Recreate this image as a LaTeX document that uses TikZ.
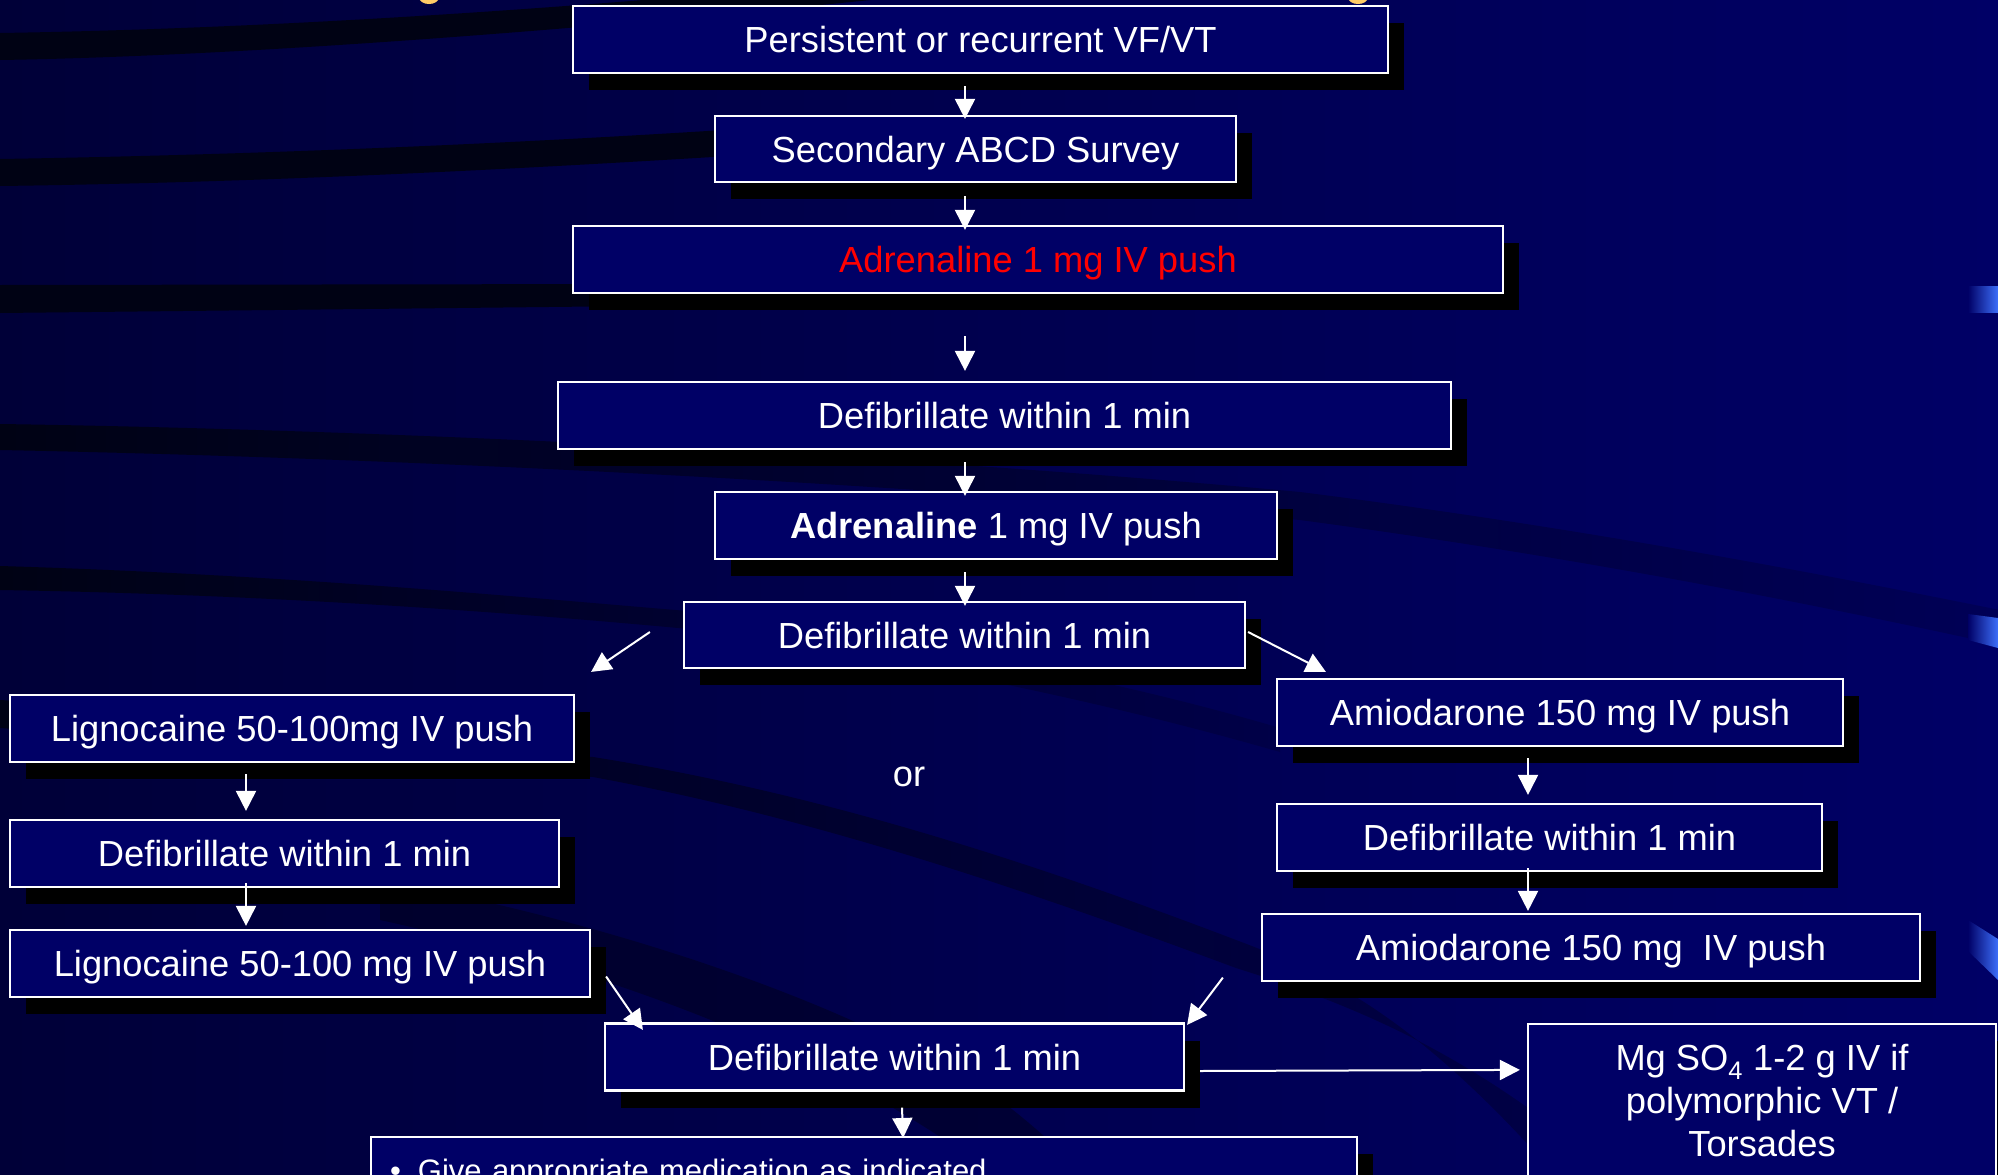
\documentclass[tikz,border=0pt]{standalone}
\usepackage{fontspec}
\setmainfont{Liberation Sans}
\usetikzlibrary{arrows.meta,shadows,calc}

\definecolor{boxfill}{RGB}{0,0,102}
\definecolor{bgleft}{RGB}{0,0,56}
\definecolor{bgmid}{RGB}{0,0,88}
\definecolor{bgright}{RGB}{0,0,102}
\definecolor{band}{RGB}{0,2,20}
\definecolor{bandfade}{RGB}{0,0,72}
\definecolor{bandfaint}{RGB}{0,0,86}
\definecolor{titlegold}{RGB}{255,204,102}
\definecolor{edgeblue}{RGB}{60,110,250}
\definecolor{alertred}{RGB}{255,0,0}

\tikzset{
  plainbox/.style={draw=white, line width=2.2pt, fill=boxfill, text=white, inner sep=0pt,
    font=\fontsize{36.3}{43}\selectfont,
    drop shadow={shadow xshift=16pt, shadow yshift=-17pt, fill=black, opacity=1}},
  stepbox/.style={plainbox, text height=26pt, text depth=0pt},
  flow/.style={draw=white, line width=2pt, -{Triangle[length=20pt,width=20pt]}},
}

\begin{document}
\begin{tikzpicture}[x=1pt,y=-1pt]
\useasboundingbox (0,0) rectangle (1998,1175);
\clip (0,0) rectangle (1998,1175);

% backdrop
\shade[left color=bgleft, middle color=bgmid, right color=bgright] (0,0) rectangle (1998,1175);

% dark sweeping bands
\fill[band] (0,33) .. controls (250,29) and (500,12) .. (680,-3) -- (900,-3)
  .. controls (600,28) and (250,56) .. (0,60) -- cycle;
\fill[band] (0,159) .. controls (300,154) and (600,140) .. (900,118) -- (900,145)
  .. controls (600,165) and (300,182) .. (0,186) -- cycle;
\fill[band] (0,285) -- (640,284) -- (640,306) -- (0,313) -- cycle;
\shade[left color=band, right color=bandfaint]
  (0,424) .. controls (400,430) and (900,455) .. (1300,492)
  .. controls (1600,530) and (1850,580) .. (2000,610) -- (2000,645)
  .. controls (1850,612) and (1600,560) .. (1300,520)
  .. controls (900,483) and (400,458) .. (0,450) -- cycle;
\shade[left color=band, right color=bandfade]
  (0,566) .. controls (300,575) and (550,600) .. (700,612)
  .. controls (900,640) and (1100,675) .. (1280,728) -- (1280,752)
  .. controls (1100,700) and (900,660) .. (700,630)
  .. controls (550,616) and (300,595) .. (0,590) -- cycle;
\shade[left color=band, right color=bandfade]
  (0,700) .. controls (250,715) and (450,745) .. (593,757)
  .. controls (800,790) and (1000,850) .. (1236,940)
  .. controls (1330,975) and (1420,1020) .. (1560,1180) -- (1620,1180)
  .. controls (1480,1060) and (1370,1010) .. (1236,968)
  .. controls (1000,880) and (800,815) .. (593,777)
  .. controls (450,770) and (250,745) .. (0,728) -- cycle;
\fill[band, opacity=0.45] (380,880) .. controls (600,920) and (850,1000) .. (1000,1100)
  .. controls (1040,1130) and (1070,1160) .. (1090,1180) -- (1000,1180)
  .. controls (900,1100) and (700,990) .. (380,920) -- cycle;

% blue flashes at the right edge
\shade[left color=bgright, right color=edgeblue] (1968,286) -- (1998,286) -- (1998,312) -- (1968,312) -- cycle;
\shade[left color=bgright, right color=edgeblue] (1968,614) -- (1998,618) -- (1998,648) -- (1968,640) -- cycle;
\shade[left color=bgright, right color=edgeblue] (1968,920) -- (1998,939) -- (1998,980) -- (1968,951) -- cycle;

% tails of the heading letters
\draw[titlegold, line width=4pt] (421,-3) arc[start angle=180, end angle=0, x radius=8, y radius=5];
\draw[titlegold, line width=4pt] (1350,-3) arc[start angle=180, end angle=0, x radius=8, y radius=5];

% boxes
\node[stepbox, minimum width=815pt, minimum height=67pt] (persist) at (980.5,39.5) {Persistent or recurrent VF/VT};
\node[stepbox, minimum width=521pt, minimum height=66pt] (survey) at (975.5,149) {Secondary ABCD Survey};
\node[stepbox, minimum width=930pt, minimum height=67pt, text=alertred] (adrenA) at (1038,259.5) {Adrenaline 1 mg IV push};
\node[stepbox, minimum width=893pt, minimum height=67pt] (defibA) at (1004.5,415.5) {Defibrillate within 1 min};
\node[stepbox, minimum width=562pt, minimum height=67pt] (adrenB) at (996,525.5) {\textbf{Adrenaline} 1 mg IV push};
\node[stepbox, minimum width=561pt, minimum height=66pt] (defibB) at (964.5,635) {Defibrillate within 1 min};
\node[stepbox, minimum width=564pt, minimum height=67pt] (lignoA) at (292,728.5) {Lignocaine 50-100mg IV push};
\node[stepbox, minimum width=566pt, minimum height=67pt] (amioA) at (1560,712.5) {Amiodarone 150 mg IV push};
\node[text=white, font=\fontsize{36.3}{43}\selectfont, inner sep=0pt] (orlabel) at (909,777) {or};
\node[stepbox, minimum width=549pt, minimum height=67pt] (defibL) at (284.5,853.5) {Defibrillate within 1 min};
\node[stepbox, minimum width=545pt, minimum height=67pt] (defibR) at (1549.5,837.5) {Defibrillate within 1 min};
\node[stepbox, minimum width=580pt, minimum height=67pt] (lignoB) at (300,963.5) {Lignocaine 50-100 mg IV push};
\node[stepbox, minimum width=658pt, minimum height=67pt] (amioB) at (1591,947.5) {Amiodarone 150 mg~ IV push};
\node[stepbox, minimum width=579pt, minimum height=67pt] (defibM) at (894.5,1057) {Defibrillate within 1 min};
\node[plainbox, minimum width=468pt, minimum height=154pt, align=center] (mgso) at (1762,1101)
  {Mg SO\textsubscript{4} 1-2 g IV if\\polymorphic VT /\\Torsades};
\node[plainbox, anchor=north west, text width=948pt, align=left, inner xsep=19pt, inner ysep=22pt,
  text height=22pt, text depth=7pt, font=\fontsize{31}{37}\selectfont] (note) at (370,1136)
  {•\hspace{17pt}Give appropriate medication as indicated};

% connectors
\coordinate (spine) at (965,0);
\coordinate (lspine) at (246,0);
\coordinate (rspine) at (1528,0);
\draw[flow] ($(persist.south -| spine)+(0,12)$) -- ($(survey.north -| spine)+(0,4)$);
\draw[flow] ($(survey.south -| spine)+(0,13)$) -- ($(adrenA.north -| spine)+(0,5)$);
\draw[flow] ($(adrenA.south -| spine)+(0,42)$) -- ($(defibA.north -| spine)+(0,-10)$);
\draw[flow] ($(defibA.south -| spine)+(0,12)$) -- ($(adrenB.north -| spine)+(0,5)$);
\draw[flow] ($(adrenB.south -| spine)+(0,12)$) -- ($(defibB.north -| spine)+(0,5)$);
\draw[flow] ($(defibB.west)+(-33,-3)$) -- ($(lignoA.north east)+(16,-22)$);
\draw[flow] ($(defibB.east)+(2,-3)$) -- ($(amioA.north west)+(50,-6)$);
\draw[flow] ($(lignoA.south -| lspine)+(0,11)$) -- ($(defibL.north -| lspine)+(0,-8)$);
\draw[flow] ($(defibL.south -| lspine)+(0,-5)$) -- ($(lignoB.north -| lspine)+(0,-3)$);
\draw[flow] ($(amioA.south -| rspine)+(0,11)$) -- ($(defibR.north -| rspine)+(0,-8)$);
\draw[flow] ($(defibR.south -| rspine)+(0,-4)$) -- ($(amioB.north -| rspine)+(0,-2)$);
\draw[flow] ($(lignoB.east)+(15,13)$) -- ($(defibM.north west)+(39,7.5)$);
\draw[flow] ($(amioB.south west)+(-38,-4.5)$) -- ($(defibM.north east)+(2,2.5)$);
\draw[flow] ($(defibM.east)+(15,14)$) -- ($(mgso.north west)+(-7,47)$);
\draw[flow] ($(defibM.south)+(7.5,16)$) -- ($(note.north)+(39,2)$);
\end{tikzpicture}
\end{document}
